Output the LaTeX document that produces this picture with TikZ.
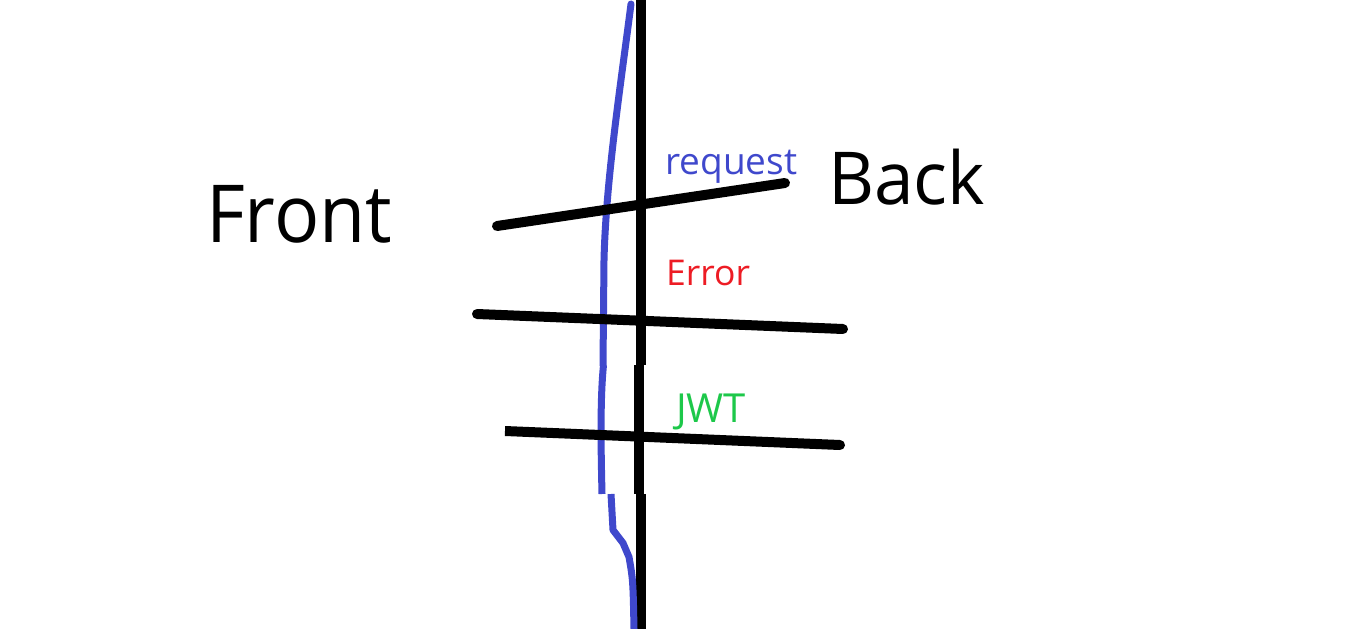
\documentclass[tikz,border=0pt]{standalone}
\usepackage{fontspec}
\setmainfont{Open Sans}
\definecolor{paintblue}{HTML}{3F48CC}
\definecolor{paintred}{HTML}{ED1C24}
\definecolor{paintgreen}{HTML}{1DC84A}

\begin{document}
\begin{tikzpicture}[x=1pt,y=-1pt,
  wire/.style={line width=10pt,line cap=round},
  wall/.style={line width=10pt},
  trace/.style={line width=7pt,paintblue,line join=round},
  every node/.style={inner sep=0pt,anchor=base west}]
  \useasboundingbox (0,0) rectangle (1350,629);
  % the wall between the two sides
  \draw[wall] (640.5,0) -- (640.5,365);
  \draw[wall] (639,365) -- (639,494);
  \draw[wall] (640.5,494) -- (640.5,629);
  % the blue path
  \draw[trace,line cap=round] (631,4) .. controls (620,90) and (606,180) .. (604,260) -- (603,365);
  \draw[trace] (603.5,365) .. controls (600,400) and (601,450) .. (602,494);
  \draw[trace] (611,494) -- (613,530) -- (623,543) -- (629,557) .. controls (633,580) .. (634,629);
  % crossing strokes
  \draw[wire] (497,226) -- (785,183);
  \draw[wire] (477,314) -- (843,329);
  \draw[wire,line cap=butt] (505,431) -- (835,444.8);
  \draw[wire] (835,444.8) -- (840,445);
  % labels
  \node[xscale=0.94] (front) at (206,242) {\fontsize{80}{90}\selectfont Front};
  \node[xscale=0.975] (back) at (828,204) {\fontsize{73}{80}\selectfont Back};
  \node[paintblue] (request) at (665,174) {\fontsize{37}{42}\selectfont request};
  \node[paintred] (error) at (666,285) {\fontsize{35.5}{40}\selectfont Error};
  \node[paintgreen] (jwt) at (676,422) {\fontsize{40}{46}\selectfont JWT};
\end{tikzpicture}
\end{document}
